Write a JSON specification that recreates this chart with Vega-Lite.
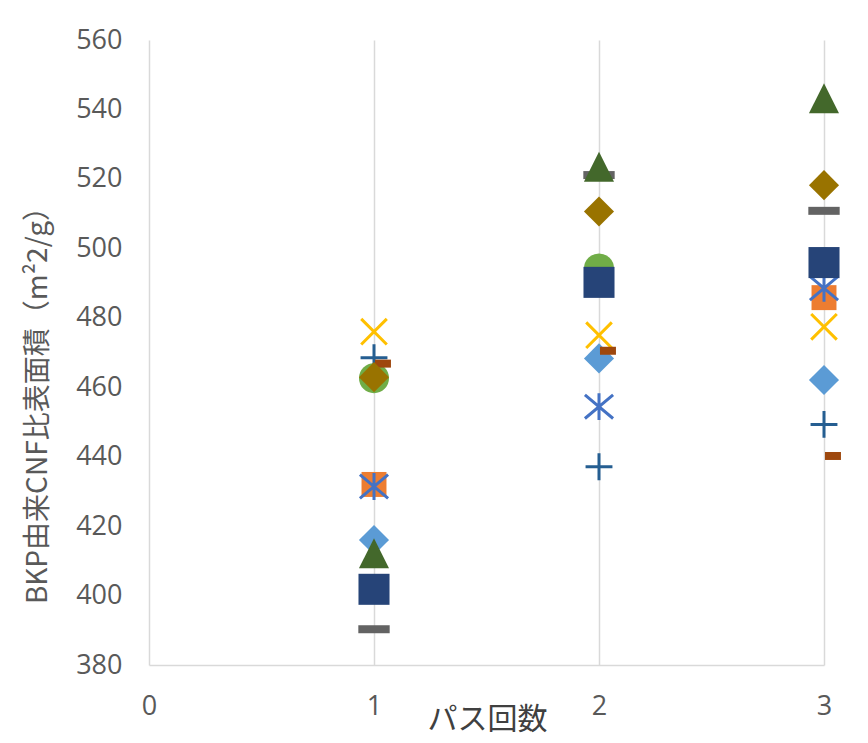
{
  "$schema": "https://vega.github.io/schema/vega-lite/v6.json",
  "width": 675,
  "height": 625,
  "autosize": {"type": "none"},
  "padding": {"left": 149, "top": 40, "right": 44, "bottom": 78},
  "background": "white",
  "config": {"view": {"stroke": null}},
  "data": {
    "values": [
      {"series": "s1", "pass": 1, "value": 416.0},
      {"series": "s1", "pass": 2, "value": 468.3},
      {"series": "s1", "pass": 3, "value": 462.1},
      {"series": "s2", "pass": 1, "value": 432.0},
      {"series": "s2", "pass": 2, "value": 490.0},
      {"series": "s2", "pass": 3, "value": 485.8},
      {"series": "s4", "pass": 1, "value": 476.0},
      {"series": "s4", "pass": 2, "value": 475.0},
      {"series": "s4", "pass": 3, "value": 477.4},
      {"series": "s5", "pass": 1, "value": 431.4},
      {"series": "s5", "pass": 2, "value": 454.4},
      {"series": "s5", "pass": 3, "value": 488.5},
      {"series": "s6", "pass": 1, "value": 462.6},
      {"series": "s6", "pass": 2, "value": 494.2},
      {"series": "s6", "pass": 3, "value": 496.0},
      {"series": "s7", "pass": 1, "value": 468.5},
      {"series": "s7", "pass": 2, "value": 437.1},
      {"series": "s7", "pass": 3, "value": 449.3},
      {"series": "s8", "pass": 1, "value": 466.8},
      {"series": "s8", "pass": 2, "value": 470.5},
      {"series": "s8", "pass": 3, "value": 440.2},
      {"series": "s9", "pass": 1, "value": 390.3},
      {"series": "s9", "pass": 2, "value": 521.1},
      {"series": "s9", "pass": 3, "value": 510.8},
      {"series": "s10", "pass": 1, "value": 462.9},
      {"series": "s10", "pass": 2, "value": 510.6},
      {"series": "s10", "pass": 3, "value": 518.2},
      {"series": "s11", "pass": 1, "value": 401.8},
      {"series": "s11", "pass": 2, "value": 490.2},
      {"series": "s11", "pass": 3, "value": 495.9},
      {"series": "s12", "pass": 1, "value": 412.2},
      {"series": "s12", "pass": 2, "value": 523.5},
      {"series": "s12", "pass": 3, "value": 543.2}
    ]
  },
  "mark": {"type": "point", "filled": true, "opacity": 1, "strokeWidth": 3},
  "encoding": {
    "x": {
      "field": "pass",
      "type": "quantitative",
      "scale": {"domain": [0, 3], "nice": false, "zero": false},
      "axis": {
        "values": [0, 1, 2, 3],
        "format": "d",
        "grid": true,
        "gridColor": "#D9D9D9",
        "gridWidth": 1.5,
        "domainColor": "#D9D9D9",
        "domainWidth": 1.5,
        "ticks": false,
        "labelFont": "Open Sans",
        "labelFontSize": 27,
        "labelColor": "#595959",
        "labelPadding": 28,
        "labelFlush": false,
        "title": "パス回数",
        "titleFont": "Noto Sans CJK JP",
        "titleFontSize": 30,
        "titleFontWeight": "normal",
        "titleColor": "#404040",
        "titleX": 338,
        "titleY": 54,
        "titleAlign": "center",
        "titleBaseline": "middle"
      }
    },
    "y": {
      "field": "value",
      "type": "quantitative",
      "scale": {"domain": [380, 560], "nice": false, "zero": false},
      "axis": {
        "values": [380, 400, 420, 440, 460, 480, 500, 520, 540, 560],
        "grid": false,
        "domain": false,
        "ticks": false,
        "labelFont": "Open Sans",
        "labelFontSize": 27,
        "labelColor": "#595959",
        "labelPadding": 27,
        "labelFlush": false,
        "title": "BKP由来CNF比表面積（m²2/g）",
        "titleFont": "Noto Sans CJK JP",
        "titleFontSize": 28,
        "titleFontWeight": "normal",
        "titleColor": "#595959",
        "titleAngle": -90,
        "titleX": -111,
        "titleY": 358,
        "titleAlign": "center",
        "titleBaseline": "middle"
      }
    },
    "shape": {
      "field": "series",
      "type": "nominal",
      "legend": null,
      "scale": {
        "domain": ["s1", "s2", "s4", "s5", "s6", "s7", "s8", "s9", "s10", "s11", "s12"],
        "range": [
          "M-0.94,0L0,-0.94L0.94,0L0,0.94Z",
          "M-0.78,-0.78L0.78,-0.78L0.78,0.78L-0.78,0.78Z",
          "M-0.8,-0.8L0.8,0.8M-0.8,0.8L0.8,-0.8",
          "M0,-0.84L0,0.84M-0.88,-0.74L0.88,0.74M-0.88,0.74L0.88,-0.74",
          "circle",
          "M-0.84,0L0.84,0M0,-0.84L0,0.84",
          "M0.06,-0.25L1.06,-0.25L1.06,0.25L0.06,0.25Z",
          "M-0.98,-0.25L0.98,-0.25L0.98,0.25L-0.98,0.25Z",
          "M-0.94,0L0,-0.94L0.94,0L0,0.94Z",
          "M-0.97,-0.97L0.97,-0.97L0.97,0.97L-0.97,0.97Z",
          "M0,-0.94L0.94,0.94L-0.94,0.94Z"
        ]
      }
    },
    "fill": {
      "field": "series",
      "type": "nominal",
      "legend": null,
      "scale": {
        "domain": ["s1", "s2", "s4", "s5", "s6", "s7", "s8", "s9", "s10", "s11", "s12"],
        "range": ["#5B9BD5", "#ED7D31", "transparent", "transparent", "#70AD47", "transparent", "#9E480E", "#636363", "#997300", "#264478", "#43682B"]
      }
    },
    "stroke": {
      "field": "series",
      "type": "nominal",
      "legend": null,
      "scale": {
        "domain": ["s1", "s2", "s4", "s5", "s6", "s7", "s8", "s9", "s10", "s11", "s12"],
        "range": ["transparent", "transparent", "#FFC000", "#4472C4", "transparent", "#255E91", "transparent", "transparent", "transparent", "transparent", "transparent"]
      }
    },
    "size": {
      "condition": {"test": "datum.series === 's6'", "value": 900},
      "value": 1024
    }
  }
}
